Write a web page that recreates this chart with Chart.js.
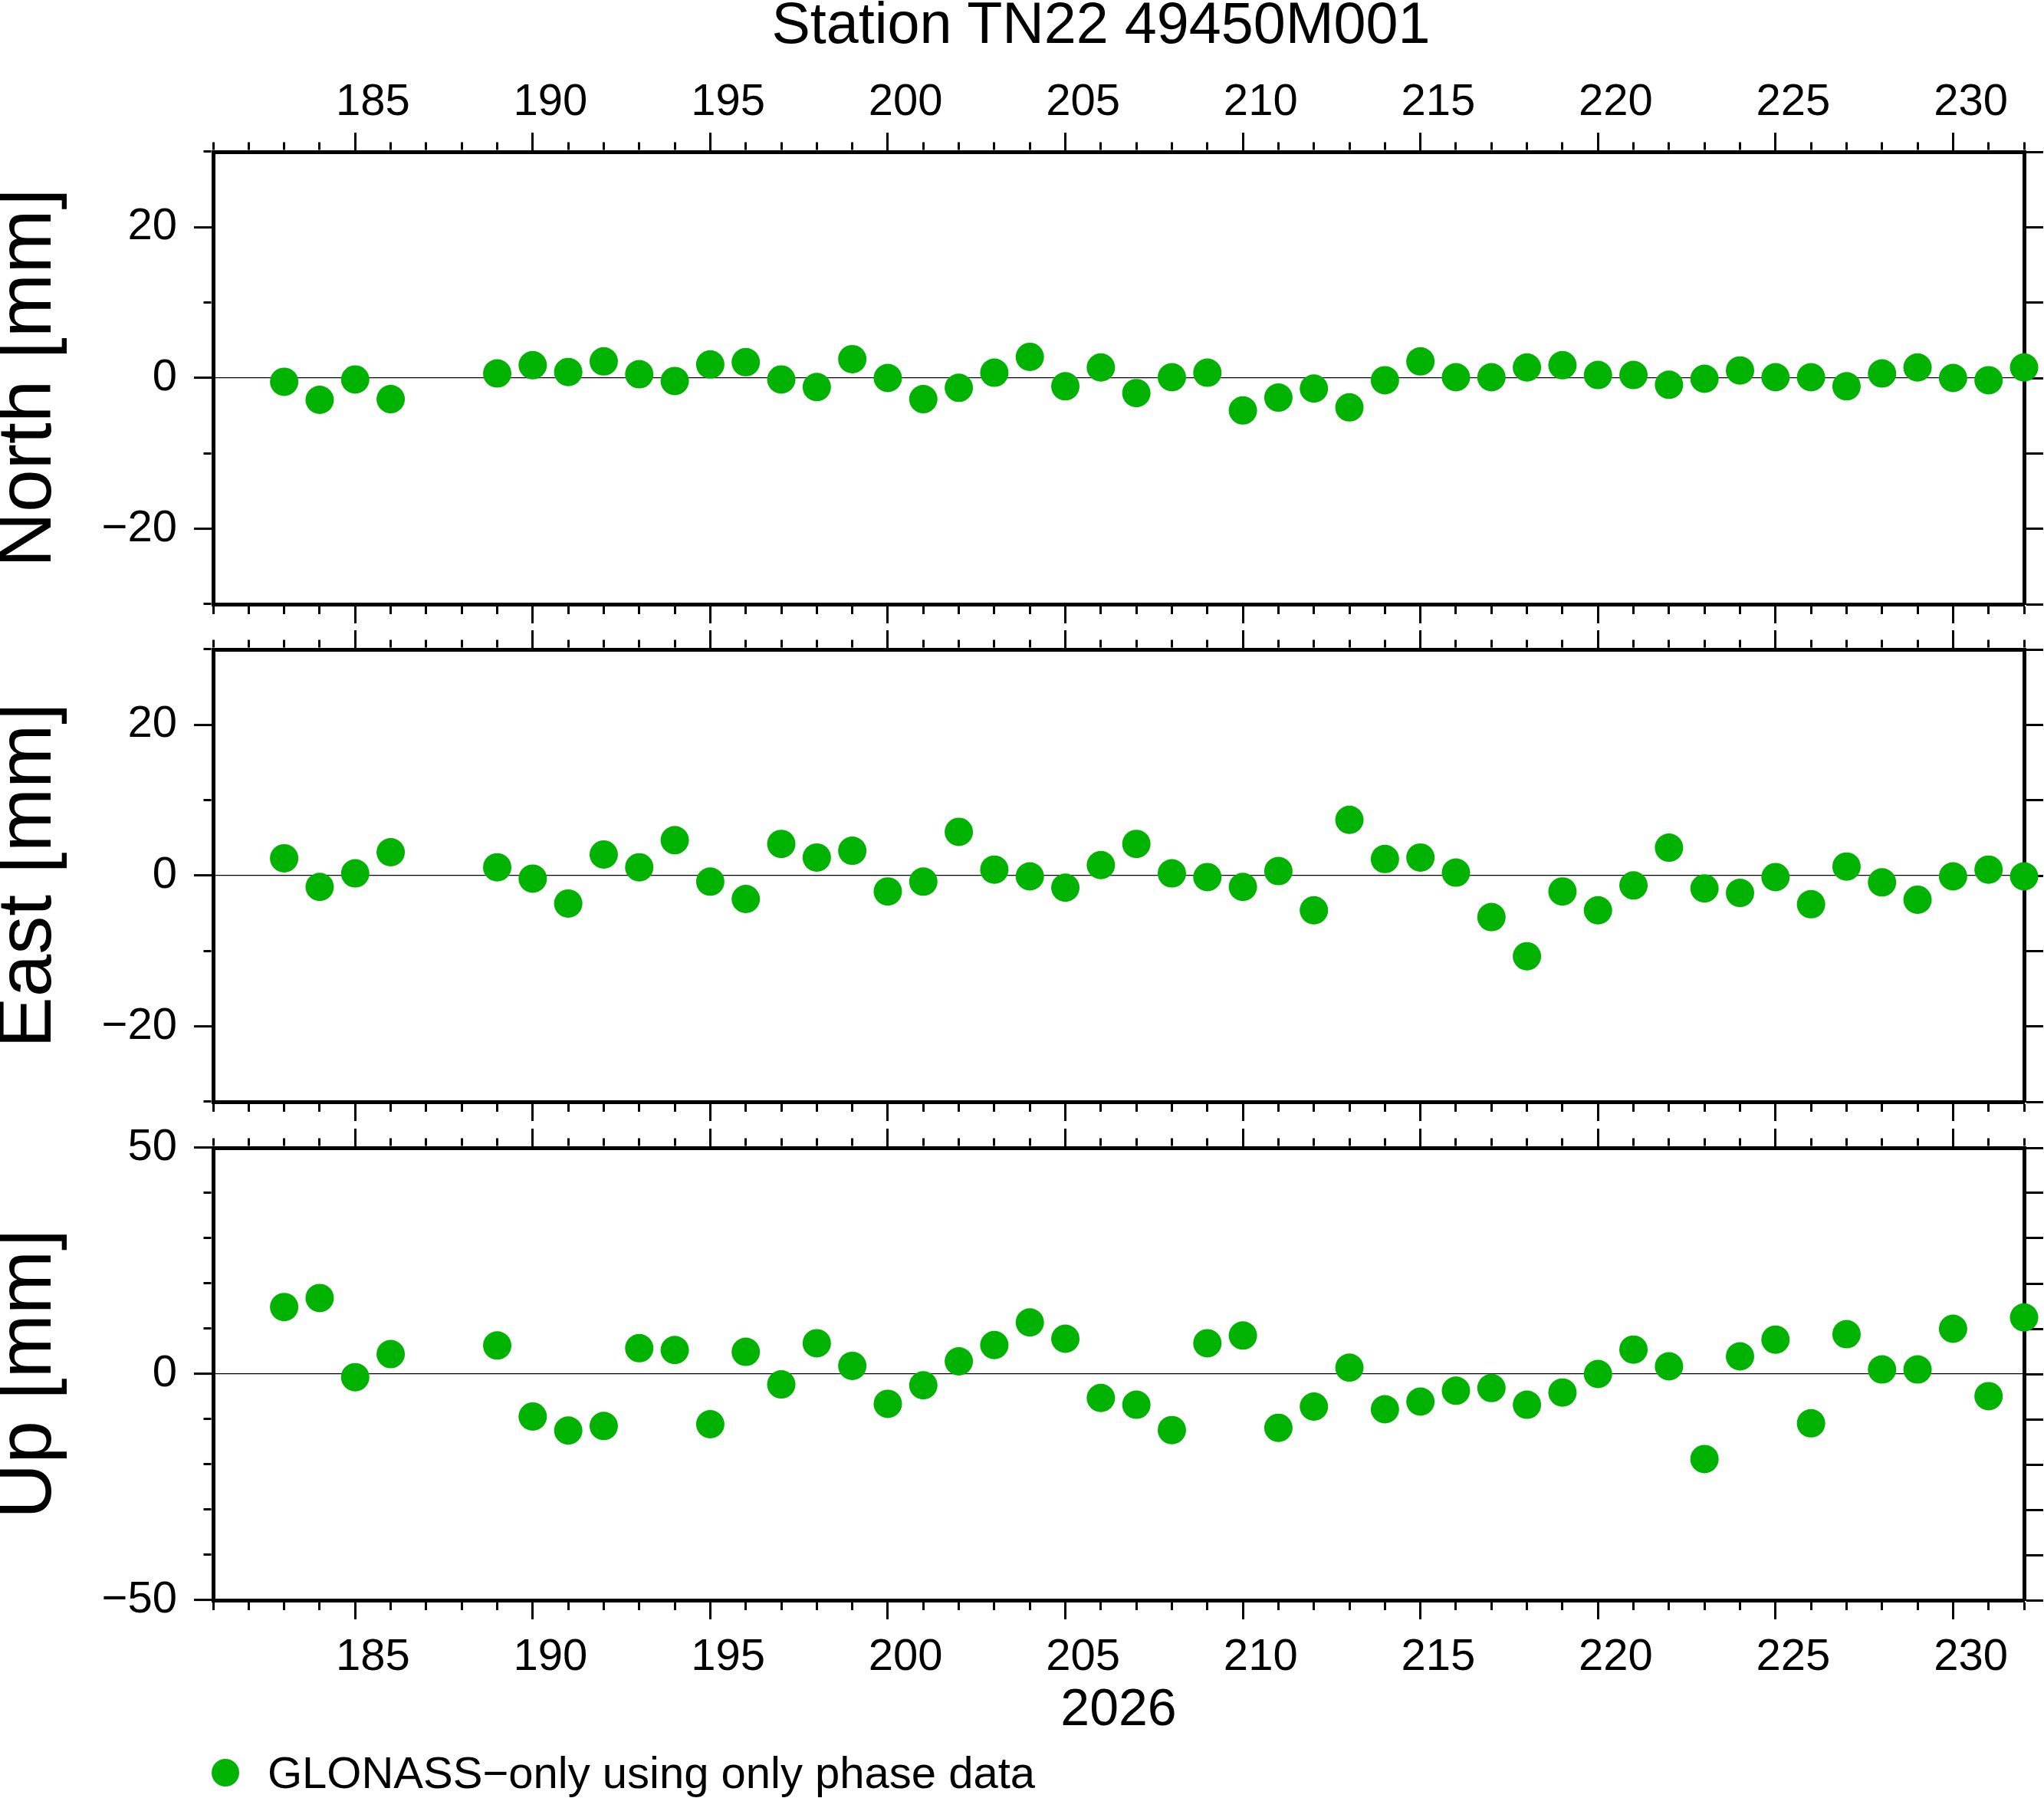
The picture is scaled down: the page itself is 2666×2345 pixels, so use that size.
<!DOCTYPE html>
<html>
<head>
<meta charset="utf-8">
<title>Station TN22 49450M001</title>
<script src="https://cdn.jsdelivr.net/npm/chart.js@4.4.1/dist/chart.umd.min.js"></script>
<style>
  html, body { margin: 0; padding: 0; background: #fff; }
  body {
    position: relative; width: 2666px; height: 2345px; overflow: hidden;
    font-family: "Liberation Sans", Arial, Helvetica, sans-serif; color: #000;
  }
  canvas { position: absolute; left: 0; }
  .txt { position: absolute; white-space: nowrap; line-height: 1; }
  #title { left: 1436px; top: -7px; font-size: 75.5px; transform: translateX(-50%); }
  #xlabel { left: 1459px; top: 2192px; font-size: 68px; transform: translateX(-50%); }
  #legend { left: 349px; top: 2283px; font-size: 58px; }
  #legdot { position: absolute; left: 276px; top: 2294px; width: 36px; height: 36px;
            border-radius: 50%; background: #00b300; }
</style>
</head>
<body>
<canvas id="north" width="2666" height="817" style="top:0"></canvas>
<canvas id="east" width="2666" height="650" style="top:817px"></canvas>
<canvas id="up" width="2666" height="733" style="top:1467px"></canvas>

<div id="title" class="txt">Station TN22 49450M001</div>
<div id="xlabel" class="txt">2026</div>
<div id="legdot"></div>
<div id="legend" class="txt">GLONASS&#8722;only using only phase data</div>

<script>
// day of year 2026
const days = [183, 184, 185, 186,
  189, 190, 191, 192, 193, 194, 195, 196, 197, 198, 199, 200, 201, 202, 203, 204, 205, 206,
  207, 208, 209, 210, 211, 212, 213, 214, 215, 216, 217, 218, 219, 220, 221, 222, 223, 224,
  225, 226, 227, 228, 229, 230, 231, 232];

// residuals, mm
const north = [-0.5, -2.9, -0.2, -2.8,
  0.6, 1.7, 0.8, 2.2, 0.5, -0.4, 1.8, 2.1, -0.2, -1.2, 2.5, 0.0, -2.8, -1.3, 0.7, 2.8, -1.1, 1.4,
  -2.0, 0.1, 0.7, -4.3, -2.6, -1.4, -3.9, -0.3, 2.2, 0.1, 0.1, 1.4, 1.7, 0.4, 0.4, -0.9, -0.1, 1.0,
  0.1, 0.1, -1.1, 0.6, 1.4, 0.0, -0.3, 1.4];
const east = [2.3, -1.5, 0.3, 3.1,
  1.1, -0.4, -3.7, 2.8, 1.1, 4.7, -0.8, -3.1, 4.2, 2.4, 3.3, -2.1, -0.8, 5.8, 0.8, -0.1, -1.6, 1.4,
  4.2, 0.3, -0.2, -1.5, 0.6, -4.6, 7.4, 2.2, 2.4, 0.4, -5.5, -10.7, -2.1, -4.6, -1.3, 3.7, -1.7, -2.3,
  -0.2, -3.8, 1.2, -0.9, -3.2, -0.1, 0.8, -0.1];
const up = [14.8, 16.8, -0.7, 4.4,
  6.3, -9.4, -12.5, -11.5, 5.7, 5.3, -11.1, 4.9, -2.3, 6.8, 1.8, -6.6, -2.5, 2.8, 6.4, 11.4, 7.8, -5.3,
  -6.8, -12.4, 6.8, 8.5, -11.9, -7.2, 1.4, -7.8, -6.1, -3.7, -3.1, -6.8, -4.1, 0.0, 5.4, 1.7, -18.8, 3.9,
  7.6, -10.9, 8.8, 1.0, 1.0, 10.0, -4.9, 12.5];

// axes
const dayRange = [181, 232];
const xTickLabels = [185, 190, 195, 200, 205, 210, 215, 220, 225, 230];
const neTickLabels = [-20, 0, 20];
const upTickLabels = [-50, 0, 50];

const FONT = '"Liberation Sans", Arial, Helvetica, sans-serif';
const GREEN = '#00b300';
const TL = 25;       // major tick length
const MINOR = 10;    // visible part of a minor tick

Chart.defaults.font.family = FONT;
Chart.defaults.color = '#000';

// tick lines run outer->inner on top/left axes and inner->outer on bottom/right
const dashOuterFirst = major => major ? [] : [0, TL - 2.5 - MINOR, MINOR, 200];
const dashInnerFirst = major => major ? [] : [MINOR, 200];

const fmt = v => (v < 0 ? '\u2212' + Math.abs(v) : String(v));

// day labels sit in the middle of the day, half a day right of the tick
const halfDay = s => (s.right - s.left) / (dayRange[1] - dayRange[0]) / 2;

function xAxis(pos, showLabels, height) {
  return {
    type: 'linear', position: pos, min: dayRange[0], max: dayRange[1],
    afterFit: s => { s.height = height; s.paddingLeft = 0; s.paddingRight = 0; },
    afterUpdate: s => { s.options.ticks.labelOffset = halfDay(s); },
    border: { display: true, color: '#000', width: 5 },
    grid: {
      drawOnChartArea: false, drawTicks: true, tickLength: TL, tickWidth: 3, tickColor: '#000',
      tickBorderDash: ctx => {
        if (!ctx.tick) return [];
        const major = xTickLabels.includes(ctx.tick.value);
        return pos === 'top' ? dashOuterFirst(major) : dashInnerFirst(major);
      }
    },
    ticks: {
      display: showLabels, stepSize: 1, autoSkip: false, maxRotation: 0, maxTicksLimit: 200,
      padding: pos === 'top' ? 4 : 15, labelOffset: 23.16,
      font: { size: 58, family: FONT }, color: '#000',
      callback: v => xTickLabels.includes(v) ? String(v) : ''
    }
  };
}

function makePanel(id, values, opt) {
  const points = days.map((d, i) => ({ x: d, y: values[i] }));
  new Chart(document.getElementById(id), {
    type: 'scatter',
    data: {
      datasets: [{
        data: points, xAxisID: 'x', yAxisID: 'y',
        pointRadius: 18.5, pointBorderWidth: 0, backgroundColor: GREEN, borderColor: GREEN,
        pointHoverRadius: 18.5, clip: false
      }]
    },
    options: {
      responsive: false, animation: false, events: [], devicePixelRatio: 1,
      layout: { padding: 0 },
      plugins: { legend: { display: false }, tooltip: { enabled: false }, title: { display: false } },
      scales: {
        x: xAxis('bottom', opt.bottomLabels, opt.bottomH),
        x2: xAxis('top', opt.topLabels, opt.topH),
        y: {
          type: 'linear', position: 'left', min: opt.yMin, max: opt.yMax,
          afterFit: s => { s.width = 278; s.paddingTop = 0; s.paddingBottom = 0; },
          border: { display: true, color: '#000', width: 5 },
          grid: {
            drawOnChartArea: true, drawTicks: true, tickLength: TL, tickWidth: 3, tickColor: '#000',
            color: ctx => (ctx.tick && ctx.tick.value === 0) ? '#000' : 'rgba(0,0,0,0)',
            lineWidth: 1.2,
            tickBorderDash: ctx => ctx.tick ? dashOuterFirst(opt.yLabels.includes(ctx.tick.value)) : []
          },
          ticks: {
            stepSize: 10, autoSkip: false, padding: 22,
            font: { size: 58, family: FONT }, color: '#000',
            callback: v => opt.yLabels.includes(v) ? fmt(v) : ''
          },
          title: {
            display: true, text: opt.title, color: '#000', padding: 0,
            font: { size: 100, family: FONT, lineHeight: 0.76 }
          }
        },
        y2: {
          type: 'linear', position: 'right', min: opt.yMin, max: opt.yMax,
          afterFit: s => { s.width = 26; s.paddingTop = 0; s.paddingBottom = 0; },
          border: { display: true, color: '#000', width: 5 },
          grid: { drawOnChartArea: false, drawTicks: true, tickLength: TL, tickWidth: 3, tickColor: '#000' },
          ticks: { display: false, stepSize: 10, autoSkip: false }
        }
      }
    }
  });
}

makePanel('north', north, { title: 'North [mm]', yMin: -30, yMax: 30, yLabels: neTickLabels,
  topLabels: true, bottomLabels: false, topH: 198, bottomH: 29 });
makePanel('east', east, { title: 'East [mm]', yMin: -30, yMax: 30, yLabels: neTickLabels,
  topLabels: false, bottomLabels: false, topH: 30, bottomH: 30 });
makePanel('up', up, { title: 'Up [mm]', yMin: -50, yMax: 50, yLabels: upTickLabels,
  topLabels: false, bottomLabels: true, topH: 30, bottomH: 113 });
</script>
</body>
</html>
